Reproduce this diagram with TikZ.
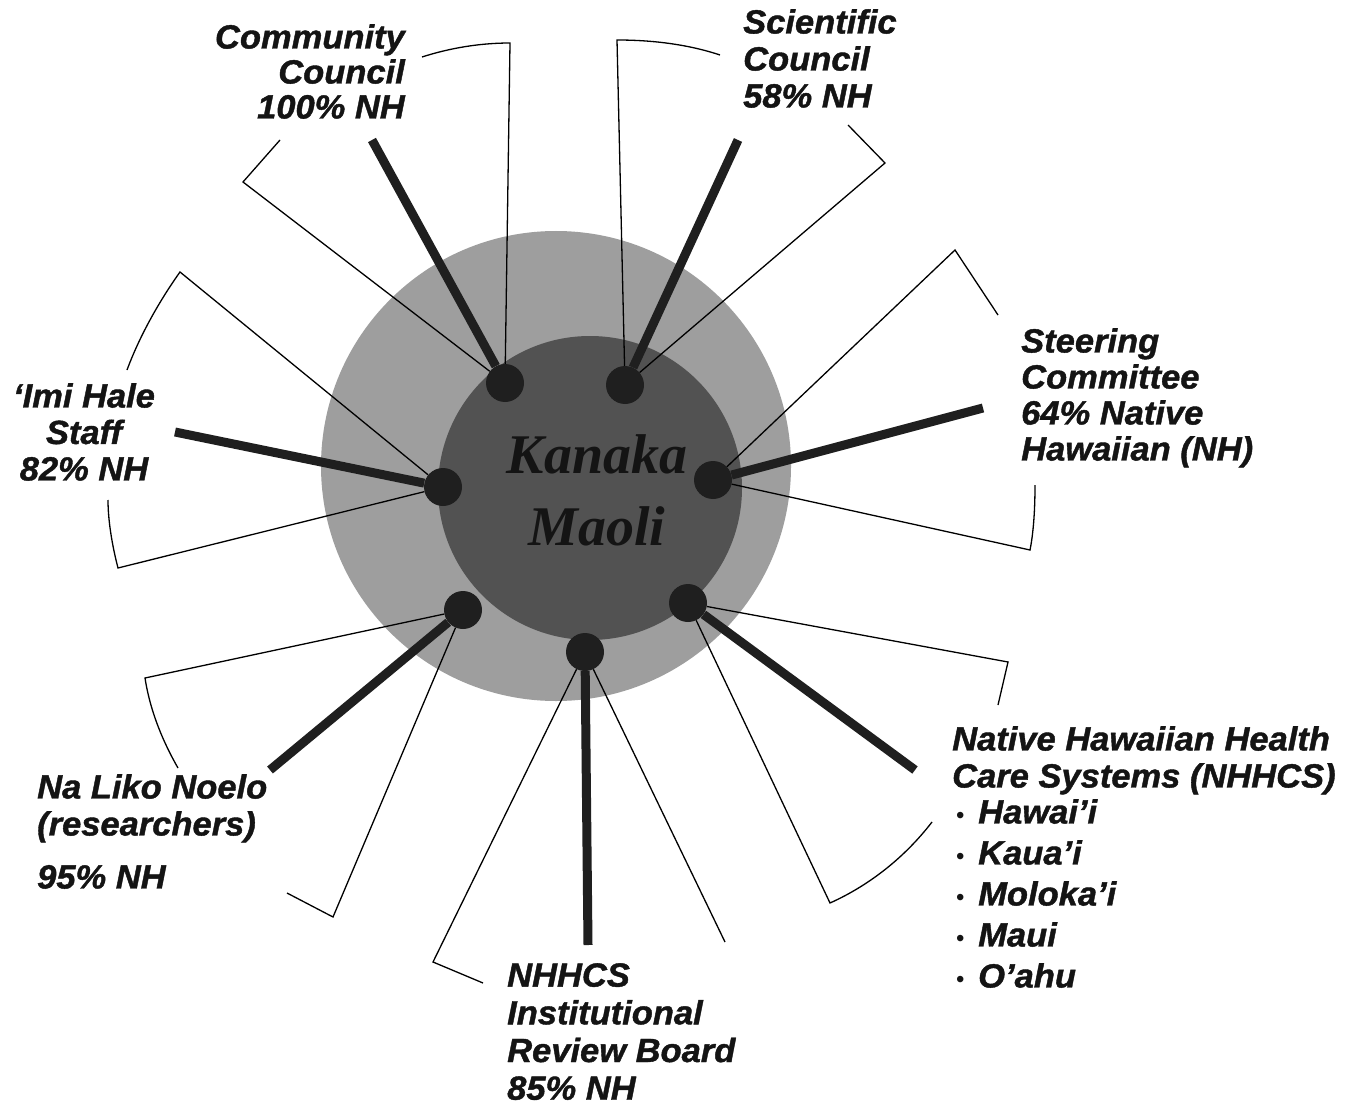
\documentclass[tikz,border=0pt]{standalone}
\usepackage{fontspec}
\setmainfont{Liberation Sans}[BoldItalicFeatures={FakeStretch=1.03,FakeBold=1.2}]
\newfontfamily\kmfont{Liberation Serif}
\begin{document}
\begin{tikzpicture}[x=1pt,y=-1pt,
  hub/.style={circle,fill=black!88,minimum size=38pt,inner sep=0pt},
  spoke/.style={line width=9pt,draw=black!88},
  rim/.style={line width=1.3pt,draw=black,line join=miter},
  lbl/.style={inner sep=0pt,font=\fontsize{33.5}{36.5}\selectfont\bfseries\itshape,text=black!92}]
\useasboundingbox (0,0) rectangle (1362,1107);
\fill[white] (0,0) rectangle (1362,1107);
% background discs
\node[circle,fill=black!38,minimum size=470pt,inner sep=0pt] (outer) at (556,466) {};
\node[circle,fill=black!68,minimum size=304pt,inner sep=0pt] (inner) at (590,488) {};
\node[font=\fontsize{56}{72}\selectfont\kmfont\bfseries\itshape,text=black!92,align=center,inner sep=0pt] (km) at (597,490) {Kanaka\\Maoli};
% hubs
\node[hub] (cc) at (505,383) {};
\node[hub] (sc) at (625,385) {};
\node[hub] (st) at (713,480) {};
\node[hub] (im) at (443,487) {};
\node[hub] (nl) at (463,610) {};
\node[hub] (ir) at (585,652) {};
\node[hub] (nh) at (688,603) {};
% free ends of spokes
\coordinate (cce) at (372,140);
\coordinate (sce) at (738,140);
\coordinate (ste) at (983,408);
\coordinate (ime) at (175,432);
\coordinate (nle) at (270,770);
\coordinate (ire) at (588,945);
\coordinate (nhe) at (915,770);
% brackets
\draw[rim] (cc) -- (243,182) -- (280,140);
\draw[rim] (cc) -- (510,43) .. controls (480,43) and (450,48) .. (422,57);
\draw[rim] (sc) -- (617,40) .. controls (655,40) and (690,45) .. (720,55);
\draw[rim] (sc) -- (885,163) -- (848,125);
\draw[rim] (st) -- (955,250) -- (998,315);
\draw[rim] (st) -- (1030,550) .. controls (1034,530) and (1035,505) .. (1035,485);
\draw[rim] (im) -- (180,272) .. controls (160,300) and (140,335) .. (127,370);
\draw[rim] (im) -- (118,568) .. controls (112,545) and (108,520) .. (108,500);
\draw[rim] (nl) -- (145,678) .. controls (150,710) and (162,740) .. (178,768);
\draw[rim] (nl) -- (333,917) -- (287,893);
\draw[rim] (ir) -- (433,962) -- (483,983);
\draw[rim] (ir) -- (725,942);
\draw[rim] (nh) -- (1008,662) -- (998,705);
\draw[rim] (nh) -- (830,903) .. controls (870,885) and (905,857) .. (932,822);
% spokes
\draw[spoke] (cc) -- (cce);
\draw[spoke] (sc) -- (sce);
\draw[spoke] (st) -- (ste);
\draw[spoke] (im) -- (ime);
\draw[spoke] (nl) -- (nle);
\draw[spoke] (ir) -- (ire);
\draw[spoke] (nh) -- (nhe);
% labels
\node[lbl,anchor=north east,align=right,font=\fontsize{33.5}{35}\selectfont\bfseries\itshape] (ccl) at (405,24) {Community\\Council\\100\% NH};
\node[lbl,anchor=north west,align=left,font=\fontsize{33.5}{37}\selectfont\bfseries\itshape] (scl) at (743,9) {Scientific\\Council\\58\% NH};
\node[lbl,anchor=north west,align=left,font=\fontsize{33.5}{36}\selectfont\bfseries\itshape] (stl) at (1021,328) {Steering\\Committee\\64\% Native\\Hawaiian (NH)};
\node[lbl,anchor=north,align=center] (iml) at (84,383) {‘Imi Hale\\Staff\\82\% NH};
\node[lbl,anchor=north west,align=left,font=\fontsize{33.5}{37}\selectfont\bfseries\itshape] (nll) at (37,774) {Na Liko Noelo\\(researchers)\\[16pt]95\% NH};
\node[lbl,anchor=north west,align=left,font=\fontsize{33.5}{37.7}\selectfont\bfseries\itshape] (irl) at (507,963) {NHHCS\\Institutional\\Review Board\\85\% NH};
\node[lbl,anchor=north west,align=left,font=\fontsize{33.5}{37}\selectfont\bfseries\itshape] (nhl) at (952,726) {Native Hawaiian Health\\Care Systems (NHHCS)};
\node[lbl,anchor=north west,align=left,font=\fontsize{33.5}{41}\selectfont\bfseries\itshape] (isl) at (956,799) {%
\makebox[22pt][l]{\normalfont\fontsize{24}{24}\selectfont\textbullet}Hawai’i\\
\makebox[22pt][l]{\normalfont\fontsize{24}{24}\selectfont\textbullet}Kaua’i\\
\makebox[22pt][l]{\normalfont\fontsize{24}{24}\selectfont\textbullet}Moloka’i\\
\makebox[22pt][l]{\normalfont\fontsize{24}{24}\selectfont\textbullet}Maui\\
\makebox[22pt][l]{\normalfont\fontsize{24}{24}\selectfont\textbullet}O’ahu};
\end{tikzpicture}
\end{document}
